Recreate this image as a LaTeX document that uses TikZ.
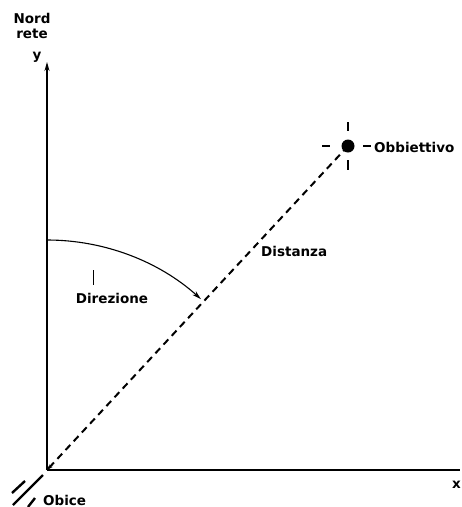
\documentclass[tikz,border=0pt]{standalone}
\usepackage{fontspec}
\setmainfont{DejaVu Sans}
\usetikzlibrary{arrows.meta,positioning,calc}

\begin{document}
\begin{tikzpicture}[
  x=1pt, y=-1pt,
  axis/.style={draw, line width=1.2pt},
  route/.style={draw, line width=2pt, dash pattern=on 7pt off 5pt},
  tick/.style={draw, line width=1.5pt},
  lbl/.style={font=\fontsize{13.5}{15}\selectfont\bfseries, inner sep=1pt},
]
  \useasboundingbox (0,0) rectangle (462,507);

  % ===== Axes =====
  \coordinate (obice) at (47,470);
  \coordinate (ytop) at (47,62);
  \coordinate (xend) at (460,470);
  \draw[axis, -{Stealth[length=9pt,width=5pt]}] (obice) -- (ytop);
  \draw[axis] (obice) -- (xend);
  \node[lbl, align=center] (nord) at (32,26) {Nord\\rete};
  \node[lbl] (ylab) at (37,57) {y};
  \node[lbl, anchor=east] (xlab) at (462,485) {x};

  % ===== Target =====
  \coordinate (obb) at (348,146);
  \fill (obb) circle (6.5pt);
  \draw[tick] ($(obb)+(0,-24)$) -- ++(0,9);
  \draw[tick] ($(obb)+(0,14)$) -- ++(0,10);
  \draw[tick] ($(obb)+(-26,0)$) -- ++(8,0);
  \draw[tick] ($(obb)+(15,0)$) -- ++(8,0);
  \node[lbl, anchor=west] (obbl) at (373,147) {Obbiettivo};

  % ===== Distance line =====
  \draw[route, -{Stealth[length=6pt,width=4pt]}] (obb) -- (obice);
  \node[lbl, anchor=west] (dist) at (260,251) {Distanza};

  % ===== Direction arc =====
  \draw[line width=1.1pt, -{Stealth[length=9pt,width=5pt]}]
    (47,240) arc[start angle=-90, end angle=-48, radius=230];
  \draw[line width=0.8pt] (93,270) -- (93,285);
  \node[lbl] (dir) at (112,298) {Direzione};

  % ===== Obice =====
  \draw[line width=2.4pt] (12,493) -- (25,481);
  \draw[line width=2.4pt] (13,505) -- (43,475);
  \draw[line width=2.4pt] (28,507) -- (35,498);
  \node[lbl, anchor=west] (obl) at (42,500) {Obice};
\end{tikzpicture}
\end{document}
